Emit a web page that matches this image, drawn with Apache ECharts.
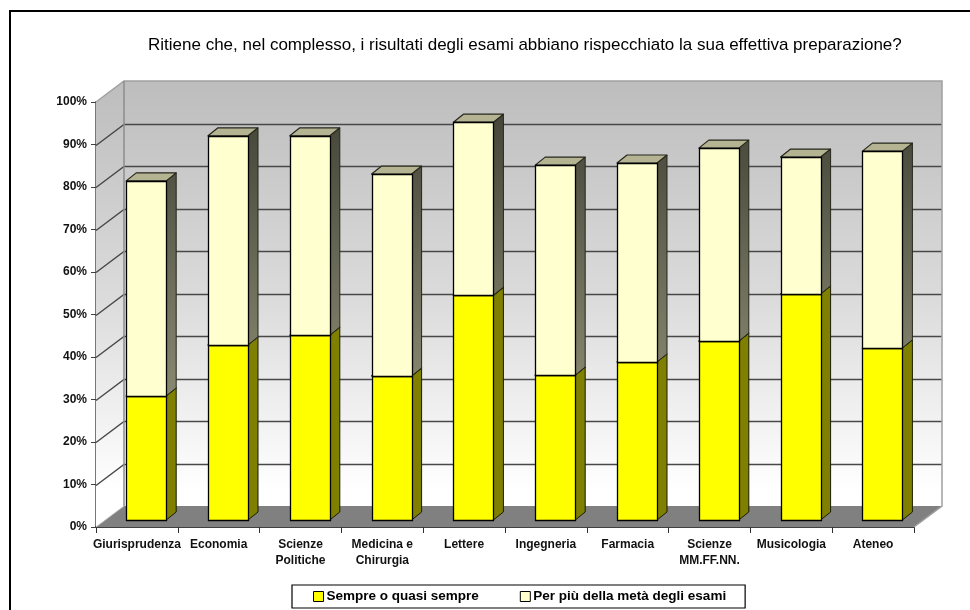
<!DOCTYPE html>
<html>
<head>
<meta charset="utf-8">
<style>html,body{margin:0;padding:0;background:#fff}#c{width:970px;height:610px}</style>
<script src="https://cdn.jsdelivr.net/npm/echarts@6/dist/echarts.min.js"></script>
</head>
<body>
<div id="c"></div>
<script>
var categories = ['Giurisprudenza','Economia','Scienze\nPolitiche','Medicina e\nChirurgia','Lettere','Ingegneria','Farmacia','Scienze\nMM.FF.NN.','Musicologia','Ateneo'];
var sempre = [29.2,41.2,43.5,33.9,52.9,34.1,37.2,42.1,53.2,40.5];
var perPiu = [50.6,49.2,46.9,47.5,40.7,49.4,46.8,45.4,32.2,46.3];
var gridValues = [10,20,30,40,50,60,70,80,90,100];
var titleText = 'Ritiene che, nel complesso, i risultati degli esami abbiano rispecchiato la sua effettiva preparazione?';
var nameA = 'Sempre o quasi sempre';
var nameB = 'Per più della metà degli esami';

var DX = 28, DY = 21;            // wall depth
var BDX = 9.3, BDY = 7;          // bar depth position
var SDX = 10, SDY = 8;           // bar thickness
var BAR_W = 40;
var FONT = '"Liberation Sans", Arial, sans-serif';

function grad(y0, y1, stops) {
  return {type:'linear', x:0, y:y0, x2:0, y2:y1, global:true,
    colorStops: stops.map(function(s){return {offset:s[0], color:s[1]};})};
}
var wallFill = grad(81, 527, [[0,'#bdbdbd'],[0.5,'#dcdcdc'],[0.92,'#ffffff'],[1,'#ffffff']]);
var sideCream = grad(120, 400, [[0,'#46463a'],[1,'#8a8a72']]);
var topCream = '#b4b492';

function renderWalls(params, api) {
  var cs = params.coordSys;
  var x0 = cs.x, x1 = cs.x + cs.width;
  var y0 = api.coord([0,0])[1], yT = api.coord([0,100])[1];
  var ch = [
    {type:'polygon', shape:{points:[[x0+DX,yT-DY],[x1+DX,yT-DY],[x1+DX,y0-DY],[x0+DX,y0-DY]]},
     style:{fill:wallFill, stroke:null}},
    {type:'polygon', shape:{points:[[x0,yT],[x0+DX,yT-DY],[x0+DX,y0-DY],[x0,y0]]},
     style:{fill:wallFill, stroke:null}},
    {type:'polygon', shape:{points:[[x0,y0],[x1,y0],[x1+DX,y0-DY],[x0+DX,y0-DY]]},
     style:{fill:'#808080', stroke:null}}
  ];
  gridValues.forEach(function(v){
    if (v === 100) return;
    var y = Math.round(api.coord([0,v])[1]) + 0.5;
    ch.push({type:'polyline', shape:{points:[[x0,y],[x0+DX,y-DY],[x1+DX,y-DY]]},
      style:{stroke:'#484848', lineWidth:1.4, fill:null}});
  });
  ch.push({type:'polyline', shape:{points:[[x0,yT],[x0+DX,yT-DY],[x1+DX,yT-DY],[x1+DX,y0-DY],[x1,y0]]},
    style:{stroke:'#a0a0a0', lineWidth:1.5, fill:null}});
  ch.push({type:'line', shape:{x1:x0+DX,y1:yT-DY,x2:x0+DX,y2:y0-DY},
    style:{stroke:'#8c8c8c', lineWidth:1.5}});
  ch.push({type:'line', shape:{x1:x0,y1:y0,x2:x0+DX,y2:y0-DY},
    style:{stroke:'#c0c0c0', lineWidth:1}});
  return {type:'group', silent:true, children:ch};
}

function makeBar(front, side, top, edge) {
  return function(params, api) {
    var c = api.value(0);
    var pS = api.coord([c, api.value(1)]);
    var pE = api.coord([c, api.value(2)]);
    var l = pS[0] - BAR_W/2 + BDX, r = l + BAR_W;
    var b = pS[1] - BDY, t = pE[1] - BDY;
    return {type:'group', children:[
      {type:'polygon', shape:{points:[[r,b],[r+SDX,b-SDY],[r+SDX,t-SDY],[r,t]]},
       style:{fill:side, stroke:edge, lineWidth:1, lineJoin:'round'}},
      {type:'polygon', shape:{points:[[l,t],[r,t],[r+SDX,t-SDY],[l+SDX,t-SDY]]},
       style:{fill:top, stroke:edge, lineWidth:1.2, lineJoin:'round'}},
      {type:'rect', shape:{x:Math.round(l)+0.5,y:Math.round(t)+0.5,width:BAR_W,height:Math.round(b)-Math.round(t)},
       style:{fill:front, stroke:'#000', lineWidth:1.3}}
    ]};
  };
}

var rowsA = sempre.map(function(v,i){return [i,0,v];});
var rowsB = perPiu.map(function(v,i){return [i,sempre[i],sempre[i]+v];});

var chart = echarts.init(document.getElementById('c'), null, {renderer:'canvas'});
chart.setOption({
  animation:false,
  backgroundColor:'#ffffff',
  title:{text:titleText, left:143, top:32,
    textStyle:{fontFamily:FONT, fontSize:17, fontWeight:'normal', color:'#000'}},
  grid:{left:96, right:56, top:102, bottom:83, containLabel:false},
  legend:{
    data:[{name:nameA, itemStyle:{color:'#ffff00', borderColor:'#000', borderWidth:1}},
          {name:nameB, itemStyle:{color:'#ffffd0', borderColor:'#000', borderWidth:1}}],
    left:292, top:585,
    padding:[4.5,19,4.5,21], itemGap:41, itemWidth:10, itemHeight:10,
    icon:'rect', borderColor:'#000', borderWidth:1.2, backgroundColor:'#fff',
    selectedMode:false, orient:'horizontal',
    textStyle:{fontFamily:FONT, fontSize:13.5, fontWeight:'bold', color:'#000', padding:[0,0,0,-2]}
  },
  xAxis:{type:'category', data:categories,
    axisLine:{show:true, lineStyle:{color:'#404040', width:2}},
    axisTick:{show:true, alignWithLabel:false, length:6, lineStyle:{color:'#303030', width:1}},
    axisLabel:{interval:0, margin:10, fontFamily:FONT, fontSize:12, fontWeight:'bold', color:'#111', lineHeight:16},
    splitLine:{show:false}},
  yAxis:{type:'value', min:0, max:100, interval:10,
    axisLine:{show:true, lineStyle:{color:'#787878', width:2}},
    axisTick:{show:true, length:5, lineStyle:{color:'#404040', width:1}},
    axisLabel:{formatter:'{value}%', margin:9, fontFamily:FONT, fontSize:12, fontWeight:'bold', color:'#111'},
    splitLine:{show:false}},
  graphic:[{type:'polyline', silent:true, z:100,
    shape:{points:[[10,610],[10,11],[970,11]]},
    style:{stroke:'#000', lineWidth:2, fill:null}}],
  series:[
    {type:'custom', name:'walls', z:1, silent:true, renderItem:renderWalls, data:[[0,0,100]], clip:false, encode:{x:0,y:[1,2]}},
    {type:'custom', name:nameA, z:2, renderItem:makeBar('#ffff00','#808000','#999900','#1a1a00'), data:rowsA, clip:false, encode:{x:0,y:[1,2]},
     itemStyle:{color:'#ffff00'}},
    {type:'custom', name:nameB, z:3, renderItem:makeBar('#ffffd0',sideCream,topCream,'#26261c'), data:rowsB, clip:false, encode:{x:0,y:[1,2]},
     itemStyle:{color:'#ffffd0'}}
  ]
});
</script>
</body>
</html>
